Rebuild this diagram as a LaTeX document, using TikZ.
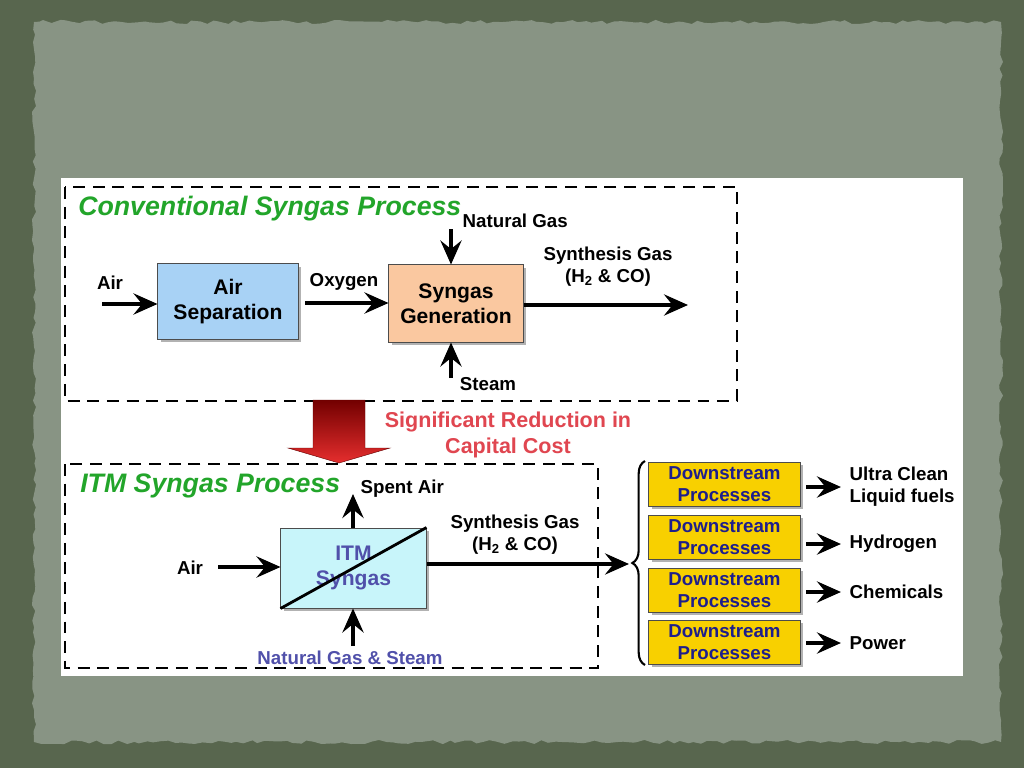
\documentclass[tikz,border=0pt]{standalone}
\usepackage{fontspec}
\setmainfont{Liberation Sans}
\usetikzlibrary{arrows.meta, positioning, shadows, decorations.pathreplacing, decorations.pathmorphing}

\definecolor{frameolive}{RGB}{88,102,78}
\definecolor{paper}{RGB}{136,148,132}
\definecolor{titlegreen}{RGB}{34,165,42}
\definecolor{sepblue}{RGB}{168,210,245}
\definecolor{genpeach}{RGB}{250,200,160}
\definecolor{itmcyan}{RGB}{200,245,250}
\definecolor{itmtext}{RGB}{80,80,170}
\definecolor{dsgold}{RGB}{248,208,0}
\definecolor{dsblue}{RGB}{30,30,140}
\definecolor{costred}{RGB}{224,70,80}

\begin{document}
\begin{tikzpicture}[x=0.025cm, y=-0.025cm,
    procbox/.style={draw=black!70, line width=0.7pt, align=center, inner sep=2pt,
        font=\fontsize{15}{18}\selectfont\bfseries,
        drop shadow={shadow xshift=2pt, shadow yshift=-2pt, opacity=0.3, fill=black}},
    dsbox/.style={procbox, fill=dsgold, text=dsblue, minimum width=3.775cm, minimum height=1.1cm,
        font=\fontsize{13.3}{15.5}\selectfont\bfseries},
    lbl/.style={font=\fontsize{13.3}{15.5}\selectfont\bfseries, align=center, inner sep=1pt},
    heading/.style={font=\fontsize{19}{22}\selectfont\bfseries\itshape, text=titlegreen, inner sep=0pt},
    zone/.style={draw, line width=2.1pt, dash pattern=on 8.5pt off 5.5pt},
    flow/.style={line width=3.2pt, -{Stealth[length=17pt, width=15pt, inset=6pt]}}]
    \useasboundingbox (0,0) rectangle (1024,768);
    % backdrop
    \fill[frameolive] (0,0) rectangle (1024,768);
    \fill[paper, decorate, decoration={random steps, segment length=5pt, amplitude=1.5pt}] (34,22) rectangle (1001,742);
    \fill[white] (61,178) rectangle (963,676);

    % conventional process
    \draw[zone] (65,187) rectangle (737,401);
    \node[heading, anchor=west] (convtitle) at (78,209) {Conventional Syngas Process};
    \node[procbox, fill=sepblue, minimum width=3.5cm, minimum height=1.875cm] (airsep) at (228,301.5) {Air\\Separation};
    \node[procbox, fill=genpeach, minimum width=3.35cm, minimum height=1.925cm] (syngen) at (456,303.5) {Syngas\\Generation};
    \node[lbl] (air1) at (110,283) {Air};
    \node[lbl] (oxy) at (344,282) {Oxygen};
    \node[lbl, anchor=west] (natgas) at (461,221) {Natural Gas};
    \node[lbl] (steam) at (488,384) {Steam};
    \node[lbl] (syngas1) at (608,267) {Synthesis Gas\\(H\textsubscript{2} \& CO)};
    \coordinate (airin1) at (102,304);
    \coordinate (oxyin) at (305,303);
    \coordinate (natin) at (451,229);
    \coordinate (steamin) at (451,378);
    \coordinate (synout1) at (688,305);
    \draw[flow] (airin1) -- (airin1 -| airsep.west);
    \draw[flow] (oxyin) -- (oxyin -| syngen.west);
    \draw[flow] (natin) -- (natin |- syngen.north);
    \draw[flow] (steamin) -- (steamin |- syngen.south);
    \draw[flow] (syngen.east |- synout1) -- (synout1);

    % big arrow
    \shade[top color=red!45!black, bottom color=red!80!white!90!black, draw=red!40!black, line width=0.3pt]
        (313,400) -- (365,400) -- (365,448) -- (390,448) -- (339,463) -- (288,448) -- (313,448) -- cycle;
    \node[lbl, text=costred, font=\fontsize{15.3}{18}\selectfont\bfseries] (cost) at (508,435) {Significant Reduction in\\Capital Cost};

    % ITM process
    \draw[zone] (65,464) rectangle (598,668);
    \node[heading, anchor=west] (itmtitle) at (80,486) {ITM Syngas Process};
    \node[procbox, fill=itmcyan, text=itmtext, minimum width=3.625cm, minimum height=2cm] (itm) at (353.5,568) {ITM\\Syngas};
    \draw[line width=2pt] (itm.south west) -- (itm.north east);
    \node[lbl, anchor=west] (spent) at (359,489) {Spent Air};
    \node[lbl] (air2) at (190,568) {Air};
    \node[lbl, text=itmtext] (ngsteam) at (350,658) {Natural Gas \& Steam};
    \node[lbl] (syngas2) at (515,535) {Synthesis Gas\\(H\textsubscript{2} \& CO)};
    \coordinate (spentout) at (353,494);
    \coordinate (airin2) at (218,567);
    \coordinate (ngin) at (353,646);
    \coordinate (synout2) at (629,564);
    \draw[flow] (itm.north -| spentout) -- (spentout);
    \draw[flow] (airin2) -- (airin2 -| itm.west);
    \draw[flow] (ngin) -- (ngin |- itm.south);
    \draw[flow] (itm.east |- synout2) -- (synout2);
    \draw[line width=1.5pt, decorate, decoration={brace, amplitude=9pt}] (645,665) -- (645,461);

    % downstream
    \foreach \y/\n in {484/1, 537.5/2, 590.5/3, 642.5/4}
        \node[dsbox] (ds\n) at (724.5,\y) {Downstream\\Processes};
    \node[lbl, anchor=west, align=left] (prod1) at (848,487) {Ultra Clean\\Liquid fuels};
    \node[lbl, anchor=west] (prod2) at (848,544) {Hydrogen};
    \node[lbl, anchor=west] (prod3) at (848,592) {Chemicals};
    \node[lbl, anchor=west] (prod4) at (848,643) {Power};
    \foreach \n in {1,...,4}
        \draw[flow] ([xshift=4pt]ds\n.east |- prod\n.west) -- ([xshift=-5pt]prod\n.west);
\end{tikzpicture}
\end{document}
